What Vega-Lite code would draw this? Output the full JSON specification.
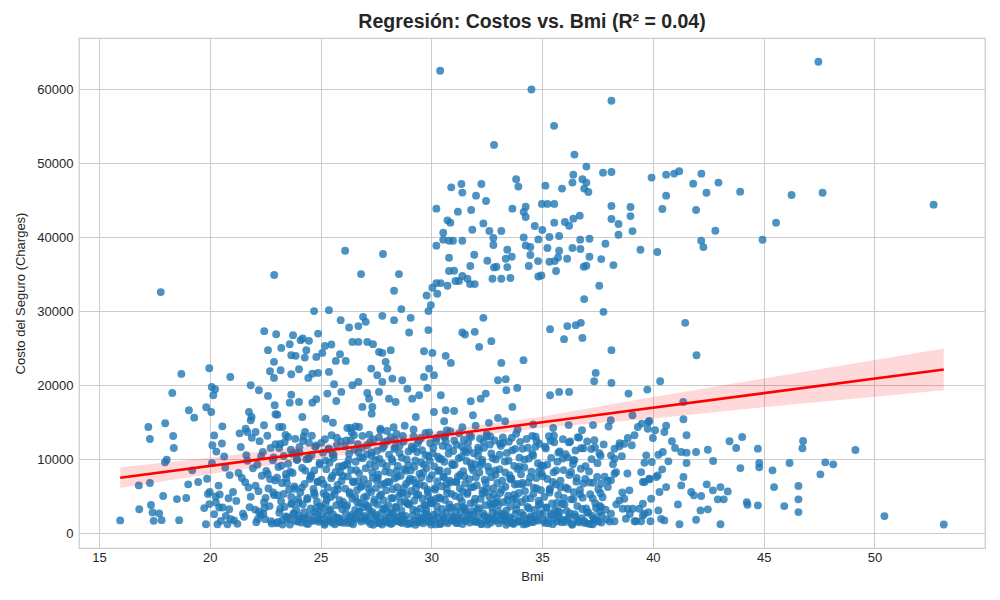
{
  "$schema": "https://vega.github.io/schema/vega-lite/v6.json",
  "width": 906,
  "height": 510,
  "autosize": "none",
  "padding": {"left": 79, "top": 38, "right": 15, "bottom": 52},
  "background": "white",
  "title": {"text": "Regresión: Costos vs. Bmi (R² = 0.04)", "fontSize": 19.5, "fontWeight": "bold", "color": "#262626", "offset": 6, "anchor": "middle"},
  "config": {
    "font": "Liberation Sans",
    "view": {"stroke": "#cccccc", "strokeWidth": 1.25},
    "axis": {"gridColor": "#cccccc", "gridWidth": 1, "domain": false, "ticks": false, "labelFontSize": 13, "labelColor": "#262626", "titleFontSize": 13, "titleFontWeight": "normal", "titleColor": "#262626"}
  },
  "datasets": {
    "pts": [
      {"bmi":17.79,"charges":32570},{"bmi":22.91,"charges":34870},{"bmi":26.11,"charges":38160},{"bmi":26.83,"charges":35000},
      {"bmi":30.4,"charges":62480},{"bmi":34.52,"charges":59940},{"bmi":38.13,"charges":58420},{"bmi":35.54,"charges":55030},
      {"bmi":32.83,"charges":52460},{"bmi":36.46,"charges":51150},{"bmi":37.0,"charges":49530},{"bmi":37.75,"charges":48710},
      {"bmi":38.13,"charges":48800},{"bmi":39.94,"charges":48040},{"bmi":40.6,"charges":48440},{"bmi":40.96,"charges":48580},
      {"bmi":41.19,"charges":48890},{"bmi":36.41,"charges":48440},{"bmi":36.37,"charges":47360},{"bmi":36.82,"charges":47810},
      {"bmi":37.0,"charges":47360},{"bmi":36.9,"charges":46550},{"bmi":37.09,"charges":46100},{"bmi":35.9,"charges":46550},
      {"bmi":35.15,"charges":46950},{"bmi":33.83,"charges":47810},{"bmi":33.93,"charges":46820},{"bmi":30.9,"charges":46720},
      {"bmi":31.36,"charges":47180},{"bmi":31.4,"charges":46010},{"bmi":32.26,"charges":47180},{"bmi":32.02,"charges":45600},
      {"bmi":32.47,"charges":44880},{"bmi":30.23,"charges":43840},{"bmi":31.2,"charges":43440},{"bmi":31.8,"charges":43660},
      {"bmi":30.73,"charges":42260},{"bmi":30.86,"charges":41950},{"bmi":30.54,"charges":40600},{"bmi":30.54,"charges":39650},
      {"bmi":30.23,"charges":38840},{"bmi":30.8,"charges":39510},{"bmi":30.98,"charges":39510},{"bmi":31.4,"charges":39510},
      {"bmi":31.85,"charges":41000},{"bmi":32.35,"charges":41850},{"bmi":32.62,"charges":40820},{"bmi":32.8,"charges":39880},
      {"bmi":32.8,"charges":38930},{"bmi":33.16,"charges":40820},{"bmi":33.66,"charges":43840},{"bmi":34.17,"charges":43400},
      {"bmi":34.26,"charges":44110},{"bmi":34.26,"charges":42720},{"bmi":34.67,"charges":41500},{"bmi":35.01,"charges":40960},
      {"bmi":34.99,"charges":44480},{"bmi":35.24,"charges":44480},{"bmi":35.55,"charges":44480},{"bmi":35.55,"charges":41950},
      {"bmi":36.03,"charges":42040},{"bmi":36.22,"charges":41540},{"bmi":36.41,"charges":42490},{"bmi":36.7,"charges":42900},
      {"bmi":34.17,"charges":39960},{"bmi":34.26,"charges":38880},{"bmi":34.83,"charges":39690},{"bmi":35.33,"charges":40010},
      {"bmi":35.77,"charges":40150},{"bmi":35.24,"charges":38520},{"bmi":35.77,"charges":38160},{"bmi":34.47,"charges":38660},
      {"bmi":34.47,"charges":37580},{"bmi":34.4,"charges":36090},{"bmi":33.43,"charges":38290},{"bmi":33.63,"charges":37350},
      {"bmi":33.36,"charges":37080},{"bmi":33.43,"charges":35950},{"bmi":32.83,"charges":35900},{"bmi":32.94,"charges":36000},
      {"bmi":32.76,"charges":34370},{"bmi":33.16,"charges":34370},{"bmi":33.57,"charges":34470},{"bmi":32.53,"charges":36810},
      {"bmi":31.94,"charges":37620},{"bmi":31.76,"charges":36090},{"bmi":30.8,"charges":37210},{"bmi":30.8,"charges":35410},
      {"bmi":31.03,"charges":35450},{"bmi":31.4,"charges":34740},{"bmi":31.63,"charges":34370},{"bmi":31.75,"charges":33650},
      {"bmi":31.96,"charges":33650},{"bmi":31.09,"charges":34060},{"bmi":31.25,"charges":34060},{"bmi":30.23,"charges":33780},
      {"bmi":30.42,"charges":33780},{"bmi":30.73,"charges":33420},{"bmi":30.05,"charges":33150},{"bmi":30.27,"charges":32340},
      {"bmi":29.79,"charges":32110},{"bmi":28.54,"charges":35000},{"bmi":28.32,"charges":32750},{"bmi":27.82,"charges":37710},
      {"bmi":34.82,"charges":36760},{"bmi":34.83,"charges":34680},{"bmi":34.97,"charges":34810},{"bmi":35.33,"charges":36670},
      {"bmi":35.57,"charges":36760},{"bmi":35.72,"charges":37250},{"bmi":36.13,"charges":37080},{"bmi":35.63,"charges":35410},
      {"bmi":36.37,"charges":38520},{"bmi":36.72,"charges":39650},{"bmi":36.73,"charges":38390},{"bmi":37.14,"charges":39780},
      {"bmi":37.14,"charges":37350},{"bmi":36.88,"charges":36000},{"bmi":37.0,"charges":36130},{"bmi":37.58,"charges":33420},
      {"bmi":37.67,"charges":37030},{"bmi":37.86,"charges":39100},{"bmi":38.22,"charges":36220},{"bmi":38.13,"charges":44200},
      {"bmi":38.13,"charges":42440},{"bmi":38.45,"charges":41770},{"bmi":38.45,"charges":40320},{"bmi":38.99,"charges":44060},
      {"bmi":38.99,"charges":42840},{"bmi":39.08,"charges":40810},{"bmi":39.44,"charges":38290},{"bmi":40.2,"charges":37980},
      {"bmi":40.43,"charges":43800},{"bmi":40.6,"charges":45600},{"bmi":47.47,"charges":63690},{"bmi":42.19,"charges":48570},
      {"bmi":41.82,"charges":47220},{"bmi":42.96,"charges":47360},{"bmi":42.42,"charges":46000},{"bmi":43.94,"charges":46140},
      {"bmi":41.95,"charges":43660},{"bmi":46.26,"charges":45690},{"bmi":47.66,"charges":46000},{"bmi":52.67,"charges":44380},
      {"bmi":45.56,"charges":41950},{"bmi":42.82,"charges":40860},{"bmi":42.18,"charges":39510},{"bmi":42.28,"charges":38650},
      {"bmi":44.95,"charges":39640},
      {"bmi":22.46,"charges":27290},{"bmi":23.0,"charges":26880},{"bmi":23.76,"charges":26750},{"bmi":24.1,"charges":26070},
      {"bmi":24.48,"charges":25980},{"bmi":24.71,"charges":30000},{"bmi":25.38,"charges":30130},{"bmi":24.89,"charges":26960},
      {"bmi":25.91,"charges":28780},{"bmi":26.29,"charges":27780},{"bmi":26.71,"charges":27970},{"bmi":26.92,"charges":29220},
      {"bmi":27.04,"charges":28550},{"bmi":22.63,"charges":24720},{"bmi":23.23,"charges":25030},{"bmi":23.61,"charges":25530},
      {"bmi":24.2,"charges":26300},{"bmi":23.68,"charges":24040},{"bmi":23.88,"charges":23950},{"bmi":24.36,"charges":24720},
      {"bmi":24.29,"charges":23720},{"bmi":24.81,"charges":23810},{"bmi":25.2,"charges":25300},{"bmi":25.49,"charges":25480},
      {"bmi":25.08,"charges":24350},{"bmi":25.88,"charges":24180},{"bmi":26.14,"charges":23270},{"bmi":25.69,"charges":23270},
      {"bmi":26.44,"charges":25840},{"bmi":26.71,"charges":25840},{"bmi":27.11,"charges":25840},{"bmi":27.37,"charges":25530},
      {"bmi":22.9,"charges":23140},{"bmi":22.72,"charges":21880},{"bmi":22.9,"charges":20970},{"bmi":23.2,"charges":22010},
      {"bmi":23.68,"charges":21470},{"bmi":24.03,"charges":22150},{"bmi":24.45,"charges":20970},{"bmi":24.63,"charges":21550},
      {"bmi":24.89,"charges":21650},{"bmi":25.38,"charges":21780},{"bmi":25.61,"charges":20120},{"bmi":25.31,"charges":18850},
      {"bmi":25.71,"charges":17860},{"bmi":25.94,"charges":19080},{"bmi":24.81,"charges":18090},{"bmi":24.63,"charges":17630},
      {"bmi":23.68,"charges":18710},{"bmi":23.61,"charges":17630},{"bmi":24.03,"charges":17720},{"bmi":22.93,"charges":17280},
      {"bmi":22.97,"charges":16060},{"bmi":21.85,"charges":19980},{"bmi":22.22,"charges":19310},{"bmi":22.63,"charges":18540},
      {"bmi":26.44,"charges":19980},{"bmi":26.71,"charges":20430},{"bmi":27.11,"charges":18940},{"bmi":26.89,"charges":17050},
      {"bmi":27.34,"charges":17050},{"bmi":27.31,"charges":16140},{"bmi":27.19,"charges":18170},{"bmi":27.29,"charges":22230},
      {"bmi":27.56,"charges":21340},{"bmi":21.77,"charges":16370},{"bmi":21.89,"charges":15690},{"bmi":21.85,"charges":15250},
      {"bmi":21.62,"charges":14110},{"bmi":21.7,"charges":13670},{"bmi":22.07,"charges":13670},{"bmi":22.45,"charges":14570},
      {"bmi":23.13,"charges":14340},{"bmi":23.28,"charges":14340},{"bmi":24.18,"charges":15690},{"bmi":25.24,"charges":15460},
      {"bmi":25.56,"charges":14920},{"bmi":26.21,"charges":14210},{"bmi":26.59,"charges":14430},{"bmi":26.36,"charges":14210},
      {"bmi":26.74,"charges":14340},{"bmi":23.05,"charges":16010},
      {"bmi":18.72,"charges":21510},{"bmi":18.31,"charges":18940},{"bmi":17.23,"charges":14340},{"bmi":17.3,"charges":12720},
      {"bmi":17.99,"charges":14840},{"bmi":18.35,"charges":13120},{"bmi":18.38,"charges":11500},{"bmi":18.06,"charges":9920},
      {"bmi":17.98,"charges":9570},{"bmi":16.8,"charges":6450},{"bmi":17.3,"charges":6770},{"bmi":17.9,"charges":5010},
      {"bmi":18.52,"charges":4600},{"bmi":18.94,"charges":4740},{"bmi":19.06,"charges":16600},{"bmi":19.3,"charges":15600},
      {"bmi":19.84,"charges":17000},{"bmi":20.07,"charges":16370},{"bmi":19.98,"charges":22280},{"bmi":20.09,"charges":19750},
      {"bmi":20.24,"charges":19440},{"bmi":20.16,"charges":18630},{"bmi":20.93,"charges":21100},{"bmi":20.57,"charges":14430},
      {"bmi":20.12,"charges":11870},{"bmi":19.21,"charges":8480},{"bmi":19.48,"charges":6900},{"bmi":19.03,"charges":6590},
      {"bmi":19.88,"charges":7350},{"bmi":20.0,"charges":5550},{"bmi":19.92,"charges":5280},{"bmi":20.27,"charges":4960},
      {"bmi":15.96,"charges":1720},{"bmi":16.82,"charges":3230},{"bmi":17.35,"charges":3800},{"bmi":17.42,"charges":2780},
      {"bmi":17.72,"charges":2650},{"bmi":17.47,"charges":1660},{"bmi":17.83,"charges":1750},{"bmi":18.62,"charges":1750},
      {"bmi":19.83,"charges":1200},{"bmi":19.75,"charges":3380},{"bmi":19.98,"charges":3920},{"bmi":20.2,"charges":2560},
      {"bmi":20.35,"charges":1200},{"bmi":20.5,"charges":1660},{"bmi":20.73,"charges":2330},{"bmi":20.8,"charges":1200},
      {"bmi":20.95,"charges":1890},{"bmi":20.58,"charges":3460},{"bmi":20.88,"charges":3240},{"bmi":20.43,"charges":3460},
      {"bmi":20.28,"charges":4130},
      {"bmi":29.98,"charges":30810},{"bmi":29.87,"charges":30000},{"bmi":27.79,"charges":29360},{"bmi":28.32,"charges":28780},
      {"bmi":28.65,"charges":30270},{"bmi":29.07,"charges":29090},{"bmi":29.0,"charges":27100},{"bmi":29.87,"charges":27430},
      {"bmi":29.67,"charges":24580},{"bmi":30.05,"charges":24350},{"bmi":30.65,"charges":23950},{"bmi":30.88,"charges":23000},
      {"bmi":31.4,"charges":27100},{"bmi":31.52,"charges":26830},{"bmi":31.96,"charges":27200},{"bmi":32.35,"charges":29090},
      {"bmi":32.16,"charges":25170},{"bmi":32.71,"charges":25940},{"bmi":27.64,"charges":24490},{"bmi":27.79,"charges":24350},
      {"bmi":27.94,"charges":23140},{"bmi":28.17,"charges":24720},{"bmi":28.02,"charges":22230},{"bmi":28.24,"charges":20880},
      {"bmi":28.69,"charges":20660},{"bmi":28.92,"charges":19520},{"bmi":27.79,"charges":20430},{"bmi":27.64,"charges":19080},
      {"bmi":28.09,"charges":18170},{"bmi":28.39,"charges":17720},{"bmi":29.14,"charges":18170},{"bmi":29.45,"charges":18630},
      {"bmi":29.82,"charges":19620},{"bmi":29.67,"charges":21110},{"bmi":29.9,"charges":22230},{"bmi":30.12,"charges":21340},
      {"bmi":30.43,"charges":18630},{"bmi":30.65,"charges":16600},{"bmi":31.03,"charges":16510},{"bmi":30.58,"charges":15110},
      {"bmi":30.12,"charges":16370},{"bmi":29.3,"charges":15690},{"bmi":31.78,"charges":17820},{"bmi":32.23,"charges":18170},
      {"bmi":32.46,"charges":18850},{"bmi":31.88,"charges":15920},{"bmi":33.01,"charges":20660},{"bmi":33.36,"charges":20800},
      {"bmi":33.39,"charges":19310},{"bmi":33.16,"charges":23000},{"bmi":33.88,"charges":19620},{"bmi":34.16,"charges":23370},
      {"bmi":33.66,"charges":17050},{"bmi":33.01,"charges":15560},{"bmi":33.33,"charges":15110},{"bmi":35.36,"charges":27560},
      {"bmi":35.99,"charges":26210},{"bmi":36.14,"charges":27970},{"bmi":36.52,"charges":28100},{"bmi":36.75,"charges":28410},
      {"bmi":36.82,"charges":26380},{"bmi":36.9,"charges":31620},{"bmi":37.77,"charges":29900},{"bmi":38.13,"charges":24720},
      {"bmi":37.42,"charges":21650},{"bmi":37.35,"charges":20520},{"bmi":38.13,"charges":20300},{"bmi":35.36,"charges":18630},
      {"bmi":35.77,"charges":19080},{"bmi":36.22,"charges":19080},{"bmi":38.9,"charges":18850},{"bmi":39.75,"charges":19390},
      {"bmi":40.33,"charges":20520},{"bmi":38.1,"charges":15250},{"bmi":39.08,"charges":15920},{"bmi":39.8,"charges":15020},
      {"bmi":41.46,"charges":28410},{"bmi":41.97,"charges":24040},{"bmi":41.37,"charges":17720},{"bmi":44.8,"charges":9470},
      {"bmi":44.8,"charges":8890},{"bmi":45.4,"charges":8480},{"bmi":46.17,"charges":9470},{"bmi":47.78,"charges":9560},
      {"bmi":48.14,"charges":9290},{"bmi":47.56,"charges":7940},{"bmi":49.14,"charges":11230},{"bmi":46.78,"charges":12450},
      {"bmi":46.75,"charges":11460},{"bmi":45.47,"charges":6220},{"bmi":46.57,"charges":6360},{"bmi":46.57,"charges":4560},
      {"bmi":46.57,"charges":2840},{"bmi":45.93,"charges":3650},{"bmi":50.45,"charges":2300},{"bmi":53.13,"charges":1163},
      {"bmi":44.27,"charges":3830},
      {"bmi":41.38,"charges":15380},{"bmi":41.52,"charges":13220},{"bmi":41.52,"charges":9470},{"bmi":40.86,"charges":12410},
      {"bmi":41.0,"charges":11500},{"bmi":41.28,"charges":10960},{"bmi":41.52,"charges":10870},{"bmi":41.95,"charges":10960},
      {"bmi":42.48,"charges":11270},{"bmi":42.72,"charges":9740},{"bmi":43.46,"charges":12410},{"bmi":43.76,"charges":11500},
      {"bmi":44.03,"charges":12990},{"bmi":44.74,"charges":11410},{"bmi":43.95,"charges":8790},{"bmi":41.38,"charges":7580},
      {"bmi":41.28,"charges":6450},{"bmi":42.43,"charges":6590},{"bmi":42.71,"charges":5780},{"bmi":43.05,"charges":6220},
      {"bmi":43.38,"charges":5640},{"bmi":41.73,"charges":5550},{"bmi":41.85,"charges":5100},{"bmi":42.18,"charges":5010},
      {"bmi":42.93,"charges":4560},{"bmi":43.2,"charges":4560},{"bmi":44.24,"charges":4190},{"bmi":42.48,"charges":3210},
      {"bmi":42.15,"charges":3070},{"bmi":41.13,"charges":3880},{"bmi":41.95,"charges":1800},{"bmi":43.05,"charges":1200},
      {"bmi":41.2,"charges":1200},{"bmi":44.74,"charges":3750},{"bmi":40.25,"charges":10590},{"bmi":40.45,"charges":10960},
      {"bmi":40.7,"charges":9700},{"bmi":39.95,"charges":9610},{"bmi":39.7,"charges":10510},{"bmi":39.62,"charges":9510},
      {"bmi":39.47,"charges":8250},{"bmi":40.22,"charges":7800},{"bmi":40.42,"charges":8620},{"bmi":39.62,"charges":6900},
      {"bmi":39.84,"charges":7260},{"bmi":40.6,"charges":6220},{"bmi":40.3,"charges":5550},{"bmi":39.92,"charges":4640},
      {"bmi":39.55,"charges":3960},{"bmi":39.8,"charges":2840},{"bmi":40.25,"charges":3070},{"bmi":40.37,"charges":1930},
      {"bmi":40.52,"charges":1720},{"bmi":39.89,"charges":1600},{"bmi":39.47,"charges":1600},{"bmi":39.17,"charges":1600},
      {"bmi":39.62,"charges":2610},{"bmi":40.52,"charges":13670},{"bmi":40.0,"charges":12850},{"bmi":39.84,"charges":15150},
      {"bmi":39.77,"charges":14110},{"bmi":39.32,"charges":14340},{"bmi":39.17,"charges":13220},{"bmi":38.87,"charges":12850},
      {"bmi":39.05,"charges":11870},{"bmi":38.71,"charges":12080},{"bmi":38.49,"charges":11730},{"bmi":38.27,"charges":11410},
      {"bmi":38.11,"charges":10510},{"bmi":38.6,"charges":10380},{"bmi":38.27,"charges":10050},{"bmi":39.55,"charges":6900},
      {"bmi":39.84,"charges":7350},{"bmi":40.15,"charges":7580},{"bmi":38.94,"charges":5780},{"bmi":38.71,"charges":4640},
      {"bmi":38.49,"charges":4420},{"bmi":38.87,"charges":3290},{"bmi":39.09,"charges":3290},{"bmi":39.39,"charges":3290},
      {"bmi":39.55,"charges":2390},{"bmi":39.24,"charges":1600},{"bmi":38.64,"charges":3290},{"bmi":38.11,"charges":2610},
      {"bmi":38.27,"charges":1600},{"bmi":37.66,"charges":3520},{"bmi":37.36,"charges":1930},{"bmi":37.29,"charges":1200},
      {"bmi":37.66,"charges":6670},{"bmi":37.97,"charges":6220},{"bmi":38.11,"charges":7130},{"bmi":38.27,"charges":8020},
      {"bmi":38.34,"charges":8250},
      {"bmi":27.7,"charges":14100},{"bmi":28.0,"charges":13800},{"bmi":28.3,"charges":14300},{"bmi":28.8,"charges":14500},
      {"bmi":29.2,"charges":14000},{"bmi":29.9,"charges":13600},{"bmi":30.7,"charges":13900},{"bmi":31.4,"charges":14300},
      {"bmi":32.0,"charges":14500},{"bmi":32.6,"charges":14900},{"bmi":33.9,"charges":14000},{"bmi":35.5,"charges":14200},
      {"bmi":36.2,"charges":14600},{"bmi":36.8,"charges":13900},{"bmi":37.3,"charges":14600},{"bmi":38.0,"charges":14400},
      {"bmi":39.5,"charges":14800},{"bmi":40.1,"charges":13900},{"bmi":40.6,"charges":14500},{"bmi":34.6,"charges":14700},
      {"bmi":20.1,"charges":9460},{"bmi":20.4,"charges":6420},{"bmi":20.55,"charges":12110},{"bmi":20.7,"charges":8870},
      {"bmi":20.85,"charges":4710},{"bmi":20.3,"charges":11020},{"bmi":20.9,"charges":7840},{"bmi":20.2,"charges":13200},
      {"bmi":20.65,"charges":10350},{"bmi":20.45,"charges":5230},
      {"bmi":21.1,"charges":1720},{"bmi":21.2,"charges":4350},{"bmi":21.3,"charges":8120},{"bmi":21.4,"charges":11640},
      {"bmi":21.5,"charges":2640},{"bmi":21.6,"charges":6890},{"bmi":21.7,"charges":9780},{"bmi":21.8,"charges":3510},
      {"bmi":21.9,"charges":12870},{"bmi":21.05,"charges":5560},{"bmi":21.25,"charges":1250},{"bmi":21.45,"charges":7450},
      {"bmi":21.65,"charges":10540},{"bmi":21.85,"charges":4920},{"bmi":21.35,"charges":13480},{"bmi":21.55,"charges":2210},
      {"bmi":21.75,"charges":6170},{"bmi":21.95,"charges":8760},
      {"bmi":22.05,"charges":3180},{"bmi":22.1,"charges":1480},{"bmi":22.15,"charges":9240},{"bmi":22.2,"charges":5670},
      {"bmi":22.25,"charges":12430},{"bmi":22.3,"charges":2450},{"bmi":22.35,"charges":7760},{"bmi":22.4,"charges":10980},
      {"bmi":22.45,"charges":4180},{"bmi":22.5,"charges":1890},{"bmi":22.55,"charges":8410},{"bmi":22.6,"charges":13150},
      {"bmi":22.65,"charges":6030},{"bmi":22.7,"charges":3650},{"bmi":22.75,"charges":11510},{"bmi":22.8,"charges":1290},
      {"bmi":22.85,"charges":9850},{"bmi":22.9,"charges":5140},{"bmi":22.95,"charges":7120},{"bmi":22.22,"charges":2880},
      {"bmi":22.52,"charges":4770},{"bmi":22.88,"charges":10210},
      {"bmi":22.07,"charges":6400},{"bmi":22.17,"charges":1900},{"bmi":22.32,"charges":10400},{"bmi":22.47,"charges":3400},
      {"bmi":22.62,"charges":8000},{"bmi":22.77,"charges":1600},{"bmi":22.87,"charges":5500},{"bmi":22.97,"charges":12000},
      {"bmi":22.42,"charges":2600},{"bmi":22.72,"charges":7300},
      {"bmi":23.02,"charges":1340},{"bmi":23.06,"charges":5120},{"bmi":23.1,"charges":8940},{"bmi":23.14,"charges":2760},
      {"bmi":23.18,"charges":12050},{"bmi":23.22,"charges":4310},{"bmi":23.26,"charges":6780},{"bmi":23.3,"charges":1780},
      {"bmi":23.34,"charges":10420},{"bmi":23.38,"charges":3540},{"bmi":23.42,"charges":13260},{"bmi":23.46,"charges":7450},
      {"bmi":23.5,"charges":2140},{"bmi":23.54,"charges":9360},{"bmi":23.58,"charges":5860},{"bmi":23.62,"charges":1160},
      {"bmi":23.66,"charges":11280},{"bmi":23.7,"charges":4020},{"bmi":23.74,"charges":8130},{"bmi":23.78,"charges":2490},
      {"bmi":23.82,"charges":6320},{"bmi":23.86,"charges":12740},{"bmi":23.9,"charges":3180},{"bmi":23.94,"charges":9920},
      {"bmi":23.98,"charges":1570},{"bmi":23.44,"charges":7980},{"bmi":23.68,"charges":4890},{"bmi":23.88,"charges":10840},
      {"bmi":23.035,"charges":7500},{"bmi":23.085,"charges":1500},{"bmi":23.135,"charges":11500},{"bmi":23.185,"charges":3300},
      {"bmi":23.235,"charges":9100},{"bmi":23.285,"charges":1150},{"bmi":23.335,"charges":5300},{"bmi":23.385,"charges":12300},
      {"bmi":23.435,"charges":2250},{"bmi":23.485,"charges":6750},{"bmi":23.535,"charges":13000},{"bmi":23.585,"charges":1850},
      {"bmi":23.635,"charges":8300},{"bmi":23.685,"charges":3950},{"bmi":23.735,"charges":10700},{"bmi":23.785,"charges":2700},
      {"bmi":23.835,"charges":6000},{"bmi":23.885,"charges":1650},{"bmi":23.935,"charges":9900},{"bmi":23.985,"charges":4600},
      {"bmi":24.02,"charges":2380},{"bmi":24.05,"charges":11630},{"bmi":24.09,"charges":5480},{"bmi":24.13,"charges":1420},
      {"bmi":24.17,"charges":8810},{"bmi":24.2,"charges":3910},{"bmi":24.24,"charges":13050},{"bmi":24.28,"charges":6640},
      {"bmi":24.32,"charges":2010},{"bmi":24.36,"charges":9980},{"bmi":24.4,"charges":4560},{"bmi":24.44,"charges":1230},
      {"bmi":24.48,"charges":12210},{"bmi":24.52,"charges":7320},{"bmi":24.56,"charges":3340},{"bmi":24.6,"charges":10560},
      {"bmi":24.64,"charges":1760},{"bmi":24.68,"charges":5970},{"bmi":24.72,"charges":8460},{"bmi":24.76,"charges":2820},
      {"bmi":24.8,"charges":11840},{"bmi":24.84,"charges":4280},{"bmi":24.88,"charges":6950},{"bmi":24.92,"charges":1540},
      {"bmi":24.96,"charges":9470},{"bmi":24.99,"charges":3620},{"bmi":24.3,"charges":13670},{"bmi":24.58,"charges":7830},
      {"bmi":24.74,"charges":5150},{"bmi":24.86,"charges":2560},{"bmi":24.46,"charges":10110},{"bmi":24.22,"charges":1960},
      {"bmi":24.01,"charges":4100},{"bmi":24.06,"charges":10850},{"bmi":24.11,"charges":2000},{"bmi":24.16,"charges":6150},
      {"bmi":24.21,"charges":12450},{"bmi":24.26,"charges":2850},{"bmi":24.31,"charges":8450},{"bmi":24.36,"charges":1300},
      {"bmi":24.41,"charges":4750},{"bmi":24.46,"charges":10050},{"bmi":24.51,"charges":2400},{"bmi":24.56,"charges":7650},
      {"bmi":24.61,"charges":13150},{"bmi":24.66,"charges":1650},{"bmi":24.71,"charges":5450},{"bmi":24.76,"charges":11650},
      {"bmi":24.81,"charges":3450},{"bmi":24.86,"charges":6900},{"bmi":24.91,"charges":1800},{"bmi":24.96,"charges":9250},
      {"bmi":25.02,"charges":1810},{"bmi":25.05,"charges":7210},{"bmi":25.08,"charges":3450},{"bmi":25.11,"charges":10870},
      {"bmi":25.14,"charges":5390},{"bmi":25.17,"charges":1320},{"bmi":25.2,"charges":12680},{"bmi":25.23,"charges":4020},
      {"bmi":25.26,"charges":8640},{"bmi":25.29,"charges":2290},{"bmi":25.32,"charges":6180},{"bmi":25.35,"charges":11330},
      {"bmi":25.38,"charges":3060},{"bmi":25.41,"charges":9520},{"bmi":25.44,"charges":1640},{"bmi":25.47,"charges":4870},
      {"bmi":25.5,"charges":13220},{"bmi":25.53,"charges":7720},{"bmi":25.56,"charges":2510},{"bmi":25.59,"charges":10150},
      {"bmi":25.62,"charges":5760},{"bmi":25.65,"charges":1190},{"bmi":25.68,"charges":8260},{"bmi":25.71,"charges":3780},
      {"bmi":25.74,"charges":11920},{"bmi":25.77,"charges":6510},{"bmi":25.8,"charges":2060},{"bmi":25.83,"charges":9010},
      {"bmi":25.86,"charges":4450},{"bmi":25.89,"charges":1470},{"bmi":25.92,"charges":12400},{"bmi":25.95,"charges":7040},
      {"bmi":25.98,"charges":3210},{"bmi":25.25,"charges":5090},{"bmi":25.55,"charges":10630},{"bmi":25.85,"charges":1940},
      {"bmi":25.035,"charges":12200},{"bmi":25.085,"charges":2600},{"bmi":25.135,"charges":6650},{"bmi":25.185,"charges":1130},
      {"bmi":25.235,"charges":9800},{"bmi":25.285,"charges":4500},{"bmi":25.335,"charges":1750},{"bmi":25.385,"charges":11400},
      {"bmi":25.435,"charges":3200},{"bmi":25.485,"charges":7400},{"bmi":25.535,"charges":1400},{"bmi":25.585,"charges":10600},
      {"bmi":25.635,"charges":5200},{"bmi":25.685,"charges":2150},{"bmi":25.735,"charges":12900},{"bmi":25.785,"charges":5900},
      {"bmi":25.835,"charges":1550},{"bmi":25.885,"charges":8200},{"bmi":25.935,"charges":3850},{"bmi":25.985,"charges":9000},
      {"bmi":26.02,"charges":4210},{"bmi":26.05,"charges":1380},{"bmi":26.08,"charges":9180},{"bmi":26.11,"charges":6020},
      {"bmi":26.14,"charges":2640},{"bmi":26.17,"charges":12540},{"bmi":26.2,"charges":3790},{"bmi":26.23,"charges":7660},
      {"bmi":26.26,"charges":1720},{"bmi":26.29,"charges":10720},{"bmi":26.32,"charges":5280},{"bmi":26.35,"charges":2210},
      {"bmi":26.38,"charges":8520},{"bmi":26.41,"charges":13610},{"bmi":26.44,"charges":4640},{"bmi":26.47,"charges":1190},
      {"bmi":26.5,"charges":6890},{"bmi":26.53,"charges":11260},{"bmi":26.56,"charges":3140},{"bmi":26.59,"charges":9640},
      {"bmi":26.62,"charges":1930},{"bmi":26.65,"charges":5830},{"bmi":26.68,"charges":12030},{"bmi":26.71,"charges":2750},
      {"bmi":26.74,"charges":8110},{"bmi":26.77,"charges":4080},{"bmi":26.8,"charges":10250},{"bmi":26.83,"charges":1560},
      {"bmi":26.86,"charges":6370},{"bmi":26.89,"charges":13140},{"bmi":26.92,"charges":3480},{"bmi":26.95,"charges":7290},
      {"bmi":26.98,"charges":2100},{"bmi":26.27,"charges":9890},{"bmi":26.57,"charges":4890},{"bmi":26.87,"charges":11560},
      {"bmi":26.4,"charges":1460},{"bmi":26.7,"charges":7040},
      {"bmi":26.01,"charges":7720},{"bmi":26.06,"charges":1720},{"bmi":26.11,"charges":11720},{"bmi":26.16,"charges":3520},
      {"bmi":26.21,"charges":9320},{"bmi":26.26,"charges":1370},{"bmi":26.31,"charges":5520},{"bmi":26.36,"charges":12520},
      {"bmi":26.41,"charges":2470},{"bmi":26.46,"charges":6970},{"bmi":26.51,"charges":13220},{"bmi":26.56,"charges":2070},
      {"bmi":26.61,"charges":8520},{"bmi":26.66,"charges":4170},{"bmi":26.71,"charges":10920},{"bmi":26.76,"charges":2920},
      {"bmi":26.81,"charges":6220},{"bmi":26.86,"charges":1870},{"bmi":26.91,"charges":10120},{"bmi":26.96,"charges":4820},
      {"bmi":27.02,"charges":2310},{"bmi":27.04,"charges":8760},{"bmi":27.07,"charges":4950},{"bmi":27.1,"charges":11870},
      {"bmi":27.12,"charges":1610},{"bmi":27.15,"charges":6680},{"bmi":27.18,"charges":3280},{"bmi":27.2,"charges":13290},
      {"bmi":27.23,"charges":9330},{"bmi":27.26,"charges":1240},{"bmi":27.28,"charges":5540},{"bmi":27.31,"charges":10460},
      {"bmi":27.34,"charges":2870},{"bmi":27.36,"charges":7480},{"bmi":27.39,"charges":12660},{"bmi":27.42,"charges":4130},
      {"bmi":27.44,"charges":1870},{"bmi":27.47,"charges":8990},{"bmi":27.5,"charges":6080},{"bmi":27.52,"charges":2450},
      {"bmi":27.55,"charges":11110},{"bmi":27.58,"charges":3870},{"bmi":27.6,"charges":7930},{"bmi":27.63,"charges":1350},
      {"bmi":27.66,"charges":10020},{"bmi":27.68,"charges":5020},{"bmi":27.71,"charges":13870},{"bmi":27.74,"charges":2690},
      {"bmi":27.76,"charges":6540},{"bmi":27.79,"charges":9410},{"bmi":27.82,"charges":1690},{"bmi":27.84,"charges":4460},
      {"bmi":27.87,"charges":12270},{"bmi":27.9,"charges":3390},{"bmi":27.92,"charges":8310},{"bmi":27.95,"charges":1980},
      {"bmi":27.97,"charges":5780},{"bmi":27.3,"charges":10890},{"bmi":27.54,"charges":7110},{"bmi":27.78,"charges":1150},
      {"bmi":27.13,"charges":3610},{"bmi":27.86,"charges":11700},
      {"bmi":27.035,"charges":3890},{"bmi":27.085,"charges":10640},{"bmi":27.135,"charges":1790},{"bmi":27.185,"charges":5940},
      {"bmi":27.235,"charges":12240},{"bmi":27.285,"charges":2640},{"bmi":27.335,"charges":8240},{"bmi":27.385,"charges":1130},
      {"bmi":27.435,"charges":4540},{"bmi":27.485,"charges":9840},{"bmi":27.535,"charges":2190},{"bmi":27.585,"charges":7440},
      {"bmi":27.635,"charges":12940},{"bmi":27.685,"charges":1440},{"bmi":27.735,"charges":5240},{"bmi":27.785,"charges":11440},
      {"bmi":27.835,"charges":3240},{"bmi":27.885,"charges":6690},{"bmi":27.935,"charges":1590},{"bmi":27.985,"charges":9040},
      {"bmi":28.01,"charges":1430},{"bmi":28.03,"charges":6920},{"bmi":28.06,"charges":3760},{"bmi":28.09,"charges":10610},
      {"bmi":28.11,"charges":2060},{"bmi":28.14,"charges":8180},{"bmi":28.17,"charges":12950},{"bmi":28.19,"charges":4730},
      {"bmi":28.22,"charges":1290},{"bmi":28.25,"charges":9670},{"bmi":28.27,"charges":5920},{"bmi":28.3,"charges":2580},
      {"bmi":28.33,"charges":11380},{"bmi":28.35,"charges":7390},{"bmi":28.38,"charges":3530},{"bmi":28.41,"charges":1640},
      {"bmi":28.43,"charges":13410},{"bmi":28.46,"charges":6190},{"bmi":28.49,"charges":9090},{"bmi":28.51,"charges":2190},
      {"bmi":28.54,"charges":4980},{"bmi":28.57,"charges":11820},{"bmi":28.59,"charges":1510},{"bmi":28.62,"charges":7740},
      {"bmi":28.65,"charges":3080},{"bmi":28.67,"charges":10170},{"bmi":28.7,"charges":5430},{"bmi":28.73,"charges":1910},
      {"bmi":28.75,"charges":12380},{"bmi":28.78,"charges":8640},{"bmi":28.81,"charges":4320},{"bmi":28.83,"charges":2330},
      {"bmi":28.86,"charges":6630},{"bmi":28.89,"charges":9960},{"bmi":28.91,"charges":1220},{"bmi":28.94,"charges":3940},
      {"bmi":28.97,"charges":11040},{"bmi":28.99,"charges":7020},{"bmi":28.2,"charges":2760},{"bmi":28.44,"charges":8390},
      {"bmi":28.68,"charges":1370},{"bmi":28.92,"charges":5210},{"bmi":28.36,"charges":12630},{"bmi":28.6,"charges":4110},
      {"bmi":28.015,"charges":12420},{"bmi":28.065,"charges":2820},{"bmi":28.115,"charges":6870},{"bmi":28.165,"charges":1270},
      {"bmi":28.215,"charges":10020},{"bmi":28.265,"charges":4720},{"bmi":28.315,"charges":1970},{"bmi":28.365,"charges":11620},
      {"bmi":28.415,"charges":3420},{"bmi":28.465,"charges":7620},{"bmi":28.515,"charges":1620},{"bmi":28.565,"charges":10820},
      {"bmi":28.615,"charges":5420},{"bmi":28.665,"charges":2370},{"bmi":28.715,"charges":13120},{"bmi":28.765,"charges":6120},
      {"bmi":28.815,"charges":1770},{"bmi":28.865,"charges":8420},{"bmi":28.915,"charges":4070},{"bmi":28.965,"charges":9220},
      {"bmi":29.02,"charges":3860},{"bmi":29.04,"charges":1280},{"bmi":29.07,"charges":8470},{"bmi":29.1,"charges":5690},
      {"bmi":29.12,"charges":11680},{"bmi":29.15,"charges":2350},{"bmi":29.18,"charges":7210},{"bmi":29.2,"charges":13060},
      {"bmi":29.23,"charges":4390},{"bmi":29.26,"charges":1730},{"bmi":29.28,"charges":9820},{"bmi":29.31,"charges":6110},
      {"bmi":29.34,"charges":2940},{"bmi":29.36,"charges":10950},{"bmi":29.39,"charges":1460},{"bmi":29.42,"charges":5180},
      {"bmi":29.44,"charges":12480},{"bmi":29.47,"charges":8030},{"bmi":29.5,"charges":3310},{"bmi":29.52,"charges":1990},
      {"bmi":29.55,"charges":7560},{"bmi":29.58,"charges":11220},{"bmi":29.6,"charges":4640},{"bmi":29.63,"charges":1320},
      {"bmi":29.66,"charges":9260},{"bmi":29.68,"charges":6390},{"bmi":29.71,"charges":2620},{"bmi":29.74,"charges":13520},
      {"bmi":29.76,"charges":3720},{"bmi":29.79,"charges":8790},{"bmi":29.82,"charges":1810},{"bmi":29.84,"charges":5570},
      {"bmi":29.87,"charges":10390},{"bmi":29.9,"charges":2210},{"bmi":29.92,"charges":7350},{"bmi":29.95,"charges":12140},
      {"bmi":29.97,"charges":4080},{"bmi":29.99,"charges":1150},{"bmi":29.3,"charges":6730},{"bmi":29.54,"charges":9570},
      {"bmi":29.78,"charges":3090},{"bmi":29.22,"charges":11470},{"bmi":29.48,"charges":1570},{"bmi":29.86,"charges":4910},
      {"bmi":29.035,"charges":7360},{"bmi":29.085,"charges":1360},{"bmi":29.135,"charges":11360},{"bmi":29.185,"charges":3160},
      {"bmi":29.235,"charges":8960},{"bmi":29.285,"charges":1130},{"bmi":29.335,"charges":5160},{"bmi":29.385,"charges":12160},
      {"bmi":29.435,"charges":2110},{"bmi":29.485,"charges":6610},{"bmi":29.535,"charges":12860},{"bmi":29.585,"charges":1710},
      {"bmi":29.635,"charges":8160},{"bmi":29.685,"charges":3810},{"bmi":29.735,"charges":10560},{"bmi":29.785,"charges":2560},
      {"bmi":29.835,"charges":5860},{"bmi":29.885,"charges":1510},{"bmi":29.935,"charges":9760},{"bmi":29.985,"charges":4460},
      {"bmi":30.01,"charges":1610},{"bmi":30.03,"charges":7840},{"bmi":30.06,"charges":4170},{"bmi":30.09,"charges":11530},
      {"bmi":30.11,"charges":2480},{"bmi":30.14,"charges":9010},{"bmi":30.17,"charges":5870},{"bmi":30.19,"charges":1180},
      {"bmi":30.22,"charges":12860},{"bmi":30.25,"charges":3630},{"bmi":30.27,"charges":6990},{"bmi":30.3,"charges":10330},
      {"bmi":30.33,"charges":2070},{"bmi":30.35,"charges":4810},{"bmi":30.38,"charges":8510},{"bmi":30.41,"charges":13330},
      {"bmi":30.43,"charges":1460},{"bmi":30.46,"charges":6340},{"bmi":30.49,"charges":3270},{"bmi":30.51,"charges":11780},
      {"bmi":30.54,"charges":7640},{"bmi":30.57,"charges":1930},{"bmi":30.59,"charges":9640},{"bmi":30.62,"charges":4490},
      {"bmi":30.65,"charges":12370},{"bmi":30.67,"charges":2760},{"bmi":30.7,"charges":5960},{"bmi":30.73,"charges":8340},
      {"bmi":30.75,"charges":1340},{"bmi":30.78,"charges":10710},{"bmi":30.81,"charges":3860},{"bmi":30.83,"charges":7070},
      {"bmi":30.86,"charges":13790},{"bmi":30.89,"charges":2290},{"bmi":30.91,"charges":5310},{"bmi":30.94,"charges":9370},
      {"bmi":30.97,"charges":1730},{"bmi":30.99,"charges":11090},{"bmi":30.2,"charges":4630},{"bmi":30.44,"charges":1270},
      {"bmi":30.68,"charges":6670},{"bmi":30.92,"charges":3450},{"bmi":30.36,"charges":10050},{"bmi":30.6,"charges":12960},
      {"bmi":30.015,"charges":4030},{"bmi":30.065,"charges":10780},{"bmi":30.115,"charges":1930},{"bmi":30.165,"charges":6080},
      {"bmi":30.215,"charges":12380},{"bmi":30.265,"charges":2780},{"bmi":30.315,"charges":8380},{"bmi":30.365,"charges":1230},
      {"bmi":30.415,"charges":4680},{"bmi":30.465,"charges":9980},{"bmi":30.515,"charges":2330},{"bmi":30.565,"charges":7580},
      {"bmi":30.615,"charges":13080},{"bmi":30.665,"charges":1580},{"bmi":30.715,"charges":5380},{"bmi":30.765,"charges":11580},
      {"bmi":30.815,"charges":3380},{"bmi":30.865,"charges":6830},{"bmi":30.915,"charges":1730},{"bmi":30.965,"charges":9180},
      {"bmi":31.02,"charges":2140},{"bmi":31.05,"charges":9250},{"bmi":31.08,"charges":5020},{"bmi":31.11,"charges":1390},
      {"bmi":31.14,"charges":11940},{"bmi":31.17,"charges":3580},{"bmi":31.2,"charges":7630},{"bmi":31.23,"charges":1820},
      {"bmi":31.26,"charges":13480},{"bmi":31.29,"charges":6050},{"bmi":31.32,"charges":2790},{"bmi":31.35,"charges":10280},
      {"bmi":31.38,"charges":4280},{"bmi":31.41,"charges":1240},{"bmi":31.44,"charges":8380},{"bmi":31.47,"charges":12590},
      {"bmi":31.5,"charges":3340},{"bmi":31.53,"charges":6690},{"bmi":31.56,"charges":1660},{"bmi":31.59,"charges":9760},
      {"bmi":31.62,"charges":5270},{"bmi":31.65,"charges":2380},{"bmi":31.68,"charges":11320},{"bmi":31.71,"charges":7290},
      {"bmi":31.74,"charges":1440},{"bmi":31.77,"charges":4010},{"bmi":31.8,"charges":12980},{"bmi":31.83,"charges":8860},
      {"bmi":31.86,"charges":2970},{"bmi":31.89,"charges":6220},{"bmi":31.92,"charges":10790},{"bmi":31.95,"charges":1570},
      {"bmi":31.98,"charges":4650},{"bmi":31.3,"charges":7890},{"bmi":31.54,"charges":3070},{"bmi":31.78,"charges":9430},
      {"bmi":31.16,"charges":1950},{"bmi":31.42,"charges":5640},{"bmi":31.66,"charges":12220},{"bmi":31.9,"charges":2540},
      {"bmi":31.12,"charges":6900},{"bmi":31.48,"charges":11110},
      {"bmi":31.035,"charges":12500},{"bmi":31.085,"charges":2900},{"bmi":31.135,"charges":6950},{"bmi":31.185,"charges":1350},
      {"bmi":31.235,"charges":10100},{"bmi":31.285,"charges":4800},{"bmi":31.335,"charges":2050},{"bmi":31.385,"charges":11700},
      {"bmi":31.435,"charges":3500},{"bmi":31.485,"charges":7700},{"bmi":31.535,"charges":1700},{"bmi":31.585,"charges":10900},
      {"bmi":31.635,"charges":5500},{"bmi":31.685,"charges":2450},{"bmi":31.735,"charges":13200},{"bmi":31.785,"charges":6200},
      {"bmi":31.835,"charges":1850},{"bmi":31.885,"charges":8500},{"bmi":31.935,"charges":4150},{"bmi":31.985,"charges":9300},
      {"bmi":32.02,"charges":1530},{"bmi":32.05,"charges":6470},{"bmi":32.08,"charges":3190},{"bmi":32.11,"charges":10460},
      {"bmi":32.14,"charges":2210},{"bmi":32.17,"charges":8190},{"bmi":32.2,"charges":12750},{"bmi":32.23,"charges":4620},
      {"bmi":32.26,"charges":1280},{"bmi":32.29,"charges":9520},{"bmi":32.32,"charges":5810},{"bmi":32.35,"charges":2660},
      {"bmi":32.38,"charges":11520},{"bmi":32.41,"charges":7220},{"bmi":32.44,"charges":3780},{"bmi":32.47,"charges":1710},
      {"bmi":32.5,"charges":13360},{"bmi":32.53,"charges":6020},{"bmi":32.56,"charges":8960},{"bmi":32.59,"charges":2110},
      {"bmi":32.62,"charges":4930},{"bmi":32.65,"charges":11960},{"bmi":32.68,"charges":1410},{"bmi":32.71,"charges":7560},
      {"bmi":32.74,"charges":3460},{"bmi":32.77,"charges":10110},{"bmi":32.8,"charges":5260},{"bmi":32.83,"charges":1920},
      {"bmi":32.86,"charges":12510},{"bmi":32.89,"charges":8470},{"bmi":32.92,"charges":4140},{"bmi":32.95,"charges":2440},
      {"bmi":32.98,"charges":6770},{"bmi":32.3,"charges":9890},{"bmi":32.54,"charges":1180},{"bmi":32.78,"charges":3950},
      {"bmi":32.15,"charges":11210},{"bmi":32.42,"charges":5540},{"bmi":32.66,"charges":13060},{"bmi":32.9,"charges":7880},
      {"bmi":32.01,"charges":7560},{"bmi":32.06,"charges":1560},{"bmi":32.11,"charges":11560},{"bmi":32.16,"charges":3360},
      {"bmi":32.21,"charges":9160},{"bmi":32.26,"charges":1210},{"bmi":32.31,"charges":5360},{"bmi":32.36,"charges":12360},
      {"bmi":32.41,"charges":2310},{"bmi":32.46,"charges":6810},{"bmi":32.51,"charges":13060},{"bmi":32.56,"charges":1910},
      {"bmi":32.61,"charges":8360},{"bmi":32.66,"charges":4010},{"bmi":32.71,"charges":10760},{"bmi":32.76,"charges":2760},
      {"bmi":32.81,"charges":6060},{"bmi":32.86,"charges":1710},{"bmi":32.91,"charges":9960},{"bmi":32.96,"charges":4660},
      {"bmi":33.02,"charges":2930},{"bmi":33.05,"charges":1340},{"bmi":33.08,"charges":8640},{"bmi":33.11,"charges":5430},
      {"bmi":33.14,"charges":11810},{"bmi":33.17,"charges":2460},{"bmi":33.2,"charges":7080},{"bmi":33.23,"charges":12940},
      {"bmi":33.26,"charges":4180},{"bmi":33.29,"charges":1760},{"bmi":33.32,"charges":9680},{"bmi":33.35,"charges":6270},
      {"bmi":33.38,"charges":3040},{"bmi":33.41,"charges":10840},{"bmi":33.44,"charges":1520},{"bmi":33.47,"charges":5050},
      {"bmi":33.5,"charges":12330},{"bmi":33.53,"charges":7830},{"bmi":33.56,"charges":3600},{"bmi":33.59,"charges":1950},
      {"bmi":33.62,"charges":7360},{"bmi":33.65,"charges":11180},{"bmi":33.68,"charges":4560},{"bmi":33.71,"charges":1240},
      {"bmi":33.74,"charges":9090},{"bmi":33.77,"charges":6560},{"bmi":33.8,"charges":2580},{"bmi":33.83,"charges":13420},
      {"bmi":33.86,"charges":3880},{"bmi":33.89,"charges":8680},{"bmi":33.92,"charges":1680},{"bmi":33.95,"charges":5420},
      {"bmi":33.98,"charges":10200},{"bmi":33.3,"charges":2240},{"bmi":33.57,"charges":7270},{"bmi":33.81,"charges":4750},
      {"bmi":33.1,"charges":12100},{"bmi":33.66,"charges":1400},
      {"bmi":33.035,"charges":3840},{"bmi":33.085,"charges":10590},{"bmi":33.135,"charges":1740},{"bmi":33.185,"charges":5890},
      {"bmi":33.235,"charges":12190},{"bmi":33.285,"charges":2590},{"bmi":33.335,"charges":8190},{"bmi":33.385,"charges":1130},
      {"bmi":33.435,"charges":4490},{"bmi":33.485,"charges":9790},{"bmi":33.535,"charges":2140},{"bmi":33.585,"charges":7390},
      {"bmi":33.635,"charges":12890},{"bmi":33.685,"charges":1390},{"bmi":33.735,"charges":5190},{"bmi":33.785,"charges":11390},
      {"bmi":33.835,"charges":3190},{"bmi":33.885,"charges":6640},{"bmi":33.935,"charges":1540},{"bmi":33.985,"charges":8990},
      {"bmi":34.02,"charges":1620},{"bmi":34.05,"charges":7940},{"bmi":34.09,"charges":4210},{"bmi":34.12,"charges":11390},
      {"bmi":34.16,"charges":2380},{"bmi":34.2,"charges":8870},{"bmi":34.23,"charges":5680},{"bmi":34.27,"charges":1270},
      {"bmi":34.3,"charges":12720},{"bmi":34.34,"charges":3530},{"bmi":34.38,"charges":6830},{"bmi":34.41,"charges":10080},
      {"bmi":34.45,"charges":2020},{"bmi":34.48,"charges":4720},{"bmi":34.52,"charges":8290},{"bmi":34.56,"charges":13140},
      {"bmi":34.59,"charges":1480},{"bmi":34.63,"charges":6130},{"bmi":34.66,"charges":3130},{"bmi":34.7,"charges":11660},
      {"bmi":34.74,"charges":7440},{"bmi":34.77,"charges":1860},{"bmi":34.81,"charges":9420},{"bmi":34.84,"charges":4390},
      {"bmi":34.88,"charges":12080},{"bmi":34.91,"charges":2680},{"bmi":34.95,"charges":5800},{"bmi":34.98,"charges":8080},
      {"bmi":34.35,"charges":1320},{"bmi":34.6,"charges":10490},{"bmi":34.85,"charges":3760},{"bmi":34.1,"charges":6560},
      {"bmi":34.5,"charges":2240},{"bmi":34.75,"charges":12460},
      {"bmi":34.01,"charges":12330},{"bmi":34.06,"charges":2730},{"bmi":34.11,"charges":6780},{"bmi":34.16,"charges":1180},
      {"bmi":34.21,"charges":9930},{"bmi":34.26,"charges":4630},{"bmi":34.31,"charges":1880},{"bmi":34.36,"charges":11530},
      {"bmi":34.41,"charges":3330},{"bmi":34.46,"charges":7530},{"bmi":34.51,"charges":1530},{"bmi":34.56,"charges":10730},
      {"bmi":34.61,"charges":5330},{"bmi":34.66,"charges":2280},{"bmi":34.71,"charges":13030},{"bmi":34.76,"charges":6030},
      {"bmi":34.81,"charges":1680},{"bmi":34.86,"charges":8330},{"bmi":34.91,"charges":3980},{"bmi":34.96,"charges":9130},
      {"bmi":35.03,"charges":2560},{"bmi":35.06,"charges":9070},{"bmi":35.1,"charges":4890},{"bmi":35.13,"charges":1380},
      {"bmi":35.17,"charges":11450},{"bmi":35.2,"charges":3420},{"bmi":35.24,"charges":7310},{"bmi":35.27,"charges":1790},
      {"bmi":35.31,"charges":13090},{"bmi":35.34,"charges":5840},{"bmi":35.38,"charges":2640},{"bmi":35.41,"charges":10170},
      {"bmi":35.45,"charges":4010},{"bmi":35.48,"charges":1210},{"bmi":35.52,"charges":8210},{"bmi":35.55,"charges":12280},
      {"bmi":35.59,"charges":3180},{"bmi":35.62,"charges":6580},{"bmi":35.66,"charges":1590},{"bmi":35.69,"charges":9660},
      {"bmi":35.73,"charges":5160},{"bmi":35.76,"charges":2270},{"bmi":35.8,"charges":11030},{"bmi":35.83,"charges":7090},
      {"bmi":35.87,"charges":1460},{"bmi":35.9,"charges":3930},{"bmi":35.94,"charges":12700},{"bmi":35.97,"charges":8520},
      {"bmi":35.35,"charges":6010},{"bmi":35.7,"charges":2970},
      {"bmi":35.035,"charges":7670},{"bmi":35.085,"charges":1670},{"bmi":35.135,"charges":11670},{"bmi":35.185,"charges":3470},
      {"bmi":35.235,"charges":9270},{"bmi":35.285,"charges":1320},{"bmi":35.335,"charges":5470},{"bmi":35.385,"charges":12470},
      {"bmi":35.435,"charges":2420},{"bmi":35.485,"charges":6920},{"bmi":35.535,"charges":13170},{"bmi":35.585,"charges":2020},
      {"bmi":35.635,"charges":8470},{"bmi":35.685,"charges":4120},{"bmi":35.735,"charges":10870},{"bmi":35.785,"charges":2870},
      {"bmi":35.835,"charges":6170},{"bmi":35.885,"charges":1820},{"bmi":35.935,"charges":10070},{"bmi":35.985,"charges":4770},
      {"bmi":36.03,"charges":1490},{"bmi":36.07,"charges":6170},{"bmi":36.11,"charges":3010},{"bmi":36.15,"charges":10240},
      {"bmi":36.19,"charges":2110},{"bmi":36.23,"charges":7860},{"bmi":36.27,"charges":12380},{"bmi":36.31,"charges":4560},
      {"bmi":36.35,"charges":1240},{"bmi":36.39,"charges":9290},{"bmi":36.43,"charges":5530},{"bmi":36.47,"charges":2560},
      {"bmi":36.51,"charges":11170},{"bmi":36.55,"charges":6950},{"bmi":36.59,"charges":3650},{"bmi":36.63,"charges":1680},
      {"bmi":36.67,"charges":12910},{"bmi":36.71,"charges":5820},{"bmi":36.75,"charges":8690},{"bmi":36.79,"charges":2030},
      {"bmi":36.83,"charges":4790},{"bmi":36.87,"charges":11460},{"bmi":36.91,"charges":1380},{"bmi":36.95,"charges":7330},
      {"bmi":36.99,"charges":3350},{"bmi":36.4,"charges":9840},
      {"bmi":36.01,"charges":3910},{"bmi":36.06,"charges":10660},{"bmi":36.11,"charges":1810},{"bmi":36.16,"charges":5960},
      {"bmi":36.21,"charges":12260},{"bmi":36.26,"charges":2660},{"bmi":36.31,"charges":8260},{"bmi":36.36,"charges":1130},
      {"bmi":36.41,"charges":4560},{"bmi":36.46,"charges":9860},{"bmi":36.51,"charges":2210},{"bmi":36.56,"charges":7460},
      {"bmi":36.61,"charges":12960},{"bmi":36.66,"charges":1460},{"bmi":36.71,"charges":5260},{"bmi":36.76,"charges":11460},
      {"bmi":36.81,"charges":3260},{"bmi":36.86,"charges":6710},{"bmi":36.91,"charges":1610},{"bmi":36.96,"charges":9060},
      {"bmi":37.03,"charges":2790},{"bmi":37.08,"charges":1290},{"bmi":37.12,"charges":8340},{"bmi":37.17,"charges":5260},
      {"bmi":37.22,"charges":11360},{"bmi":37.26,"charges":2330},{"bmi":37.31,"charges":6810},{"bmi":37.36,"charges":12560},
      {"bmi":37.4,"charges":4040},{"bmi":37.45,"charges":1690},{"bmi":37.5,"charges":9450},{"bmi":37.54,"charges":5940},
      {"bmi":37.59,"charges":2820},{"bmi":37.64,"charges":10460},{"bmi":37.68,"charges":1420},{"bmi":37.73,"charges":4840},
      {"bmi":37.78,"charges":11990},{"bmi":37.82,"charges":7620},{"bmi":37.87,"charges":3150},{"bmi":37.92,"charges":1890},
      {"bmi":37.96,"charges":7090},{"bmi":37.6,"charges":3670},
      {"bmi":37.035,"charges":12390},{"bmi":37.085,"charges":2790},{"bmi":37.135,"charges":6840},{"bmi":37.185,"charges":1240},
      {"bmi":37.235,"charges":9990},{"bmi":37.285,"charges":4690},{"bmi":37.335,"charges":1940},{"bmi":37.385,"charges":11590},
      {"bmi":37.435,"charges":3390},{"bmi":37.485,"charges":7590},{"bmi":37.535,"charges":1590},{"bmi":37.585,"charges":10790},
      {"bmi":37.635,"charges":5390},{"bmi":37.685,"charges":2340},
      {"bmi":38.05,"charges":1560},{"bmi":38.2,"charges":9310},{"bmi":38.35,"charges":3890},{"bmi":38.5,"charges":12150},
      {"bmi":38.62,"charges":5510},{"bmi":38.78,"charges":1940},{"bmi":38.85,"charges":8050},{"bmi":38.96,"charges":2590}
    ],
    "band": [
      {"bmi":15.96,"lo":6100,"hi":8900},
      {"bmi":20,"lo":8000,"hi":10200},
      {"bmi":25,"lo":10100,"hi":12000},
      {"bmi":30,"lo":12400,"hi":13650},
      {"bmi":35,"lo":14250,"hi":15750},
      {"bmi":40,"lo":15500,"hi":18400},
      {"bmi":45,"lo":17000,"hi":20900},
      {"bmi":53.13,"lo":19300,"hi":24950}
    ],
    "fit": [
      {"bmi":15.96,"charges":7480},
      {"bmi":53.13,"charges":22120}
    ]
  },
  "layer": [
    {
      "data": {"name": "pts"},
      "mark": {"type": "circle", "size": 62, "opacity": 0.8, "color": "#1f77b4"},
      "encoding": {
        "x": {"field": "bmi", "type": "quantitative", "scale": {"domain": [14.1, 54.99], "nice": false, "zero": false}, "axis": {"title": "Bmi", "values": [15, 20, 25, 30, 35, 40, 45, 50], "labelPadding": 3, "titlePadding": 6}},
        "y": {"field": "charges", "type": "quantitative", "scale": {"domain": [-2011, 66902], "nice": false, "zero": false}, "axis": {"title": "Costo del Seguro (Charges)", "values": [0, 10000, 20000, 30000, 40000, 50000, 60000], "format": "d", "labelPadding": 6, "titlePadding": 9}}
      }
    },
    {
      "data": {"name": "band"},
      "mark": {"type": "area", "color": "red", "opacity": 0.15},
      "encoding": {
        "x": {"field": "bmi", "type": "quantitative", "scale": {"domain": [14.1, 54.99], "nice": false, "zero": false}, "axis": {"title": "Bmi", "values": [15, 20, 25, 30, 35, 40, 45, 50], "labelPadding": 3, "titlePadding": 6}},
        "y": {"field": "lo", "type": "quantitative", "scale": {"domain": [-2011, 66902], "nice": false, "zero": false}, "axis": {"title": "Costo del Seguro (Charges)", "values": [0, 10000, 20000, 30000, 40000, 50000, 60000], "format": "d", "labelPadding": 6, "titlePadding": 9}},
        "y2": {"field": "hi"}
      }
    },
    {
      "data": {"name": "fit"},
      "mark": {"type": "line", "color": "red", "strokeWidth": 2.6},
      "encoding": {
        "x": {"field": "bmi", "type": "quantitative", "scale": {"domain": [14.1, 54.99], "nice": false, "zero": false}, "axis": {"title": "Bmi", "values": [15, 20, 25, 30, 35, 40, 45, 50], "labelPadding": 3, "titlePadding": 6}},
        "y": {"field": "charges", "type": "quantitative", "scale": {"domain": [-2011, 66902], "nice": false, "zero": false}, "axis": {"title": "Costo del Seguro (Charges)", "values": [0, 10000, 20000, 30000, 40000, 50000, 60000], "format": "d", "labelPadding": 6, "titlePadding": 9}}
      }
    }
  ]
}
